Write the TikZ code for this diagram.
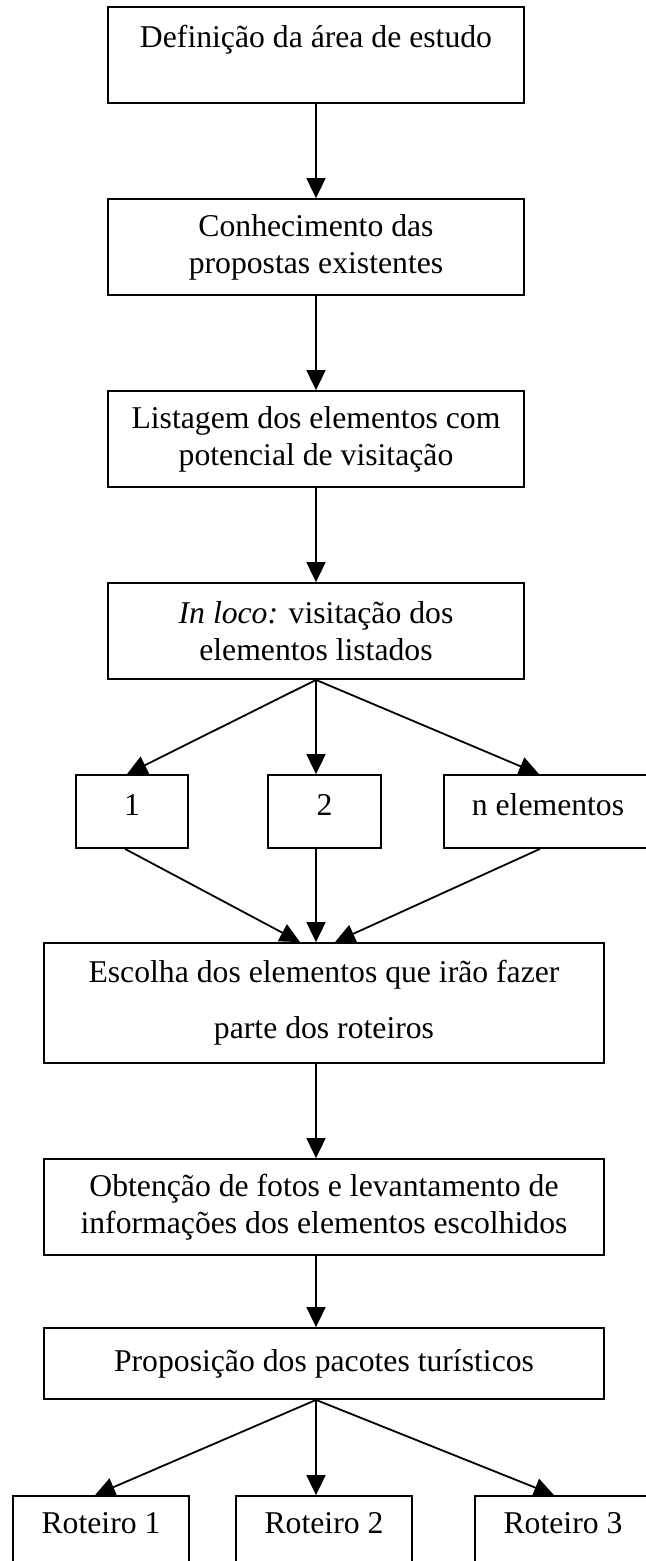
\documentclass[tikz,border=0pt]{standalone}
\usepackage{fontspec}
\setmainfont{Liberation Serif}
\usetikzlibrary{arrows.meta}

\begin{document}
\begin{tikzpicture}[node distance=96pt]
        \tikzstyle{etapa} = [rectangle, draw, line width=0.9pt, inner sep=0pt, minimum width=208pt, minimum height=48pt, align=center, font=\fontsize{15.85pt}{18.5pt}\selectfont]
        \tikzstyle{elemento} = [rectangle, draw, line width=0.9pt, inner sep=0pt, minimum height=36.5pt, text height=11pt, text depth=7.5pt, font=\fontsize{15.85pt}{18.5pt}\selectfont]
        \tikzstyle{roteiro} = [rectangle, draw, line width=0.9pt, inner sep=0pt, minimum width=88pt, minimum height=40pt, text height=11pt, text depth=14pt, font=\fontsize{15.85pt}{18.5pt}\selectfont]
        \tikzstyle{seta} = [-{Triangle[length=10pt, width=9.5pt]}, line width=0.9pt]

        \useasboundingbox (0,0) rectangle (322.5pt,-780.5pt);

        \node (area) [etapa, text height=11pt, text depth=18pt] at (158pt,-27.5pt) {Definição da área de estudo};
        \node (propostas) [etapa, below of=area] {Conhecimento das\\propostas existentes};
        \node (listagem) [etapa, below of=propostas] {Listagem dos elementos com\\potencial de visitação};
        \node (inloco) [etapa, below of=listagem] {\textit{In loco:} visitação dos\\elementos listados};

        \node (el2) [elemento, minimum width=56.5pt, node distance=90.25pt, below of=inloco, xshift=4.25pt] {2};
        \node (el1) [elemento, minimum width=56pt, node distance=90.25pt, below of=inloco, xshift=-92pt] {1};
        \node (eln) [elemento, minimum width=104pt, node distance=90.25pt, below of=inloco, xshift=116pt] {n elementos};

        \node (escolha) [etapa, minimum width=280pt, minimum height=60pt, node distance=95.75pt, below of=el2, xshift=-0.25pt] {Escolha dos elementos que irão fazer\\[9.5pt]parte dos roteiros};
        \node (fotos) [etapa, minimum width=280pt, node distance=102pt, below of=escolha] {Obtenção de fotos e levantamento de\\informações dos elementos escolhidos};
        \node (pacotes) [etapa, minimum width=280pt, minimum height=35.5pt, node distance=78.25pt, below of=fotos] {Proposição dos pacotes turísticos};

        \node (rot2) [roteiro, node distance=86.25pt, below of=pacotes] {Roteiro 2};
        \node (rot1) [roteiro, node distance=86.25pt, below of=pacotes, xshift=-111.5pt] {Roteiro 1};
        \node (rot3) [roteiro, node distance=86.25pt, below of=pacotes, xshift=119.5pt] {Roteiro 3};

        \draw[seta] (area) -- (propostas);
        \draw[seta] (propostas) -- (listagem);
        \draw[seta] (listagem) -- (inloco);
        \draw[seta] (inloco.south) -- ([xshift=-2.5pt]el1.north);
        \draw[seta] (inloco.south) -- (inloco.south |- el2.north);
        \draw[seta] (inloco.south) -- ([xshift=-4.5pt]eln.north);
        \draw[seta] ([xshift=-3.5pt]el1.south) -- ([xshift=-12pt]escolha.north);
        \draw[seta] (inloco.south |- el2.south) -- (inloco.south |- escolha.north);
        \draw[seta] ([xshift=-4pt]eln.south) -- ([xshift=5.5pt]escolha.north);
        \draw[seta] ([xshift=-4pt]escolha.south) -- ([xshift=-4pt]fotos.north);
        \draw[seta] ([xshift=-4pt]fotos.south) -- ([xshift=-4pt]pacotes.north);
        \draw[seta] ([xshift=-4pt]pacotes.south) -- ([xshift=-3pt]rot1.north);
        \draw[seta] ([xshift=-4pt]pacotes.south) -- ([xshift=-4pt]rot2.north);
        \draw[seta] ([xshift=-4pt]pacotes.south) -- ([xshift=-4.5pt]rot3.north);
    \end{tikzpicture}
\end{document}
